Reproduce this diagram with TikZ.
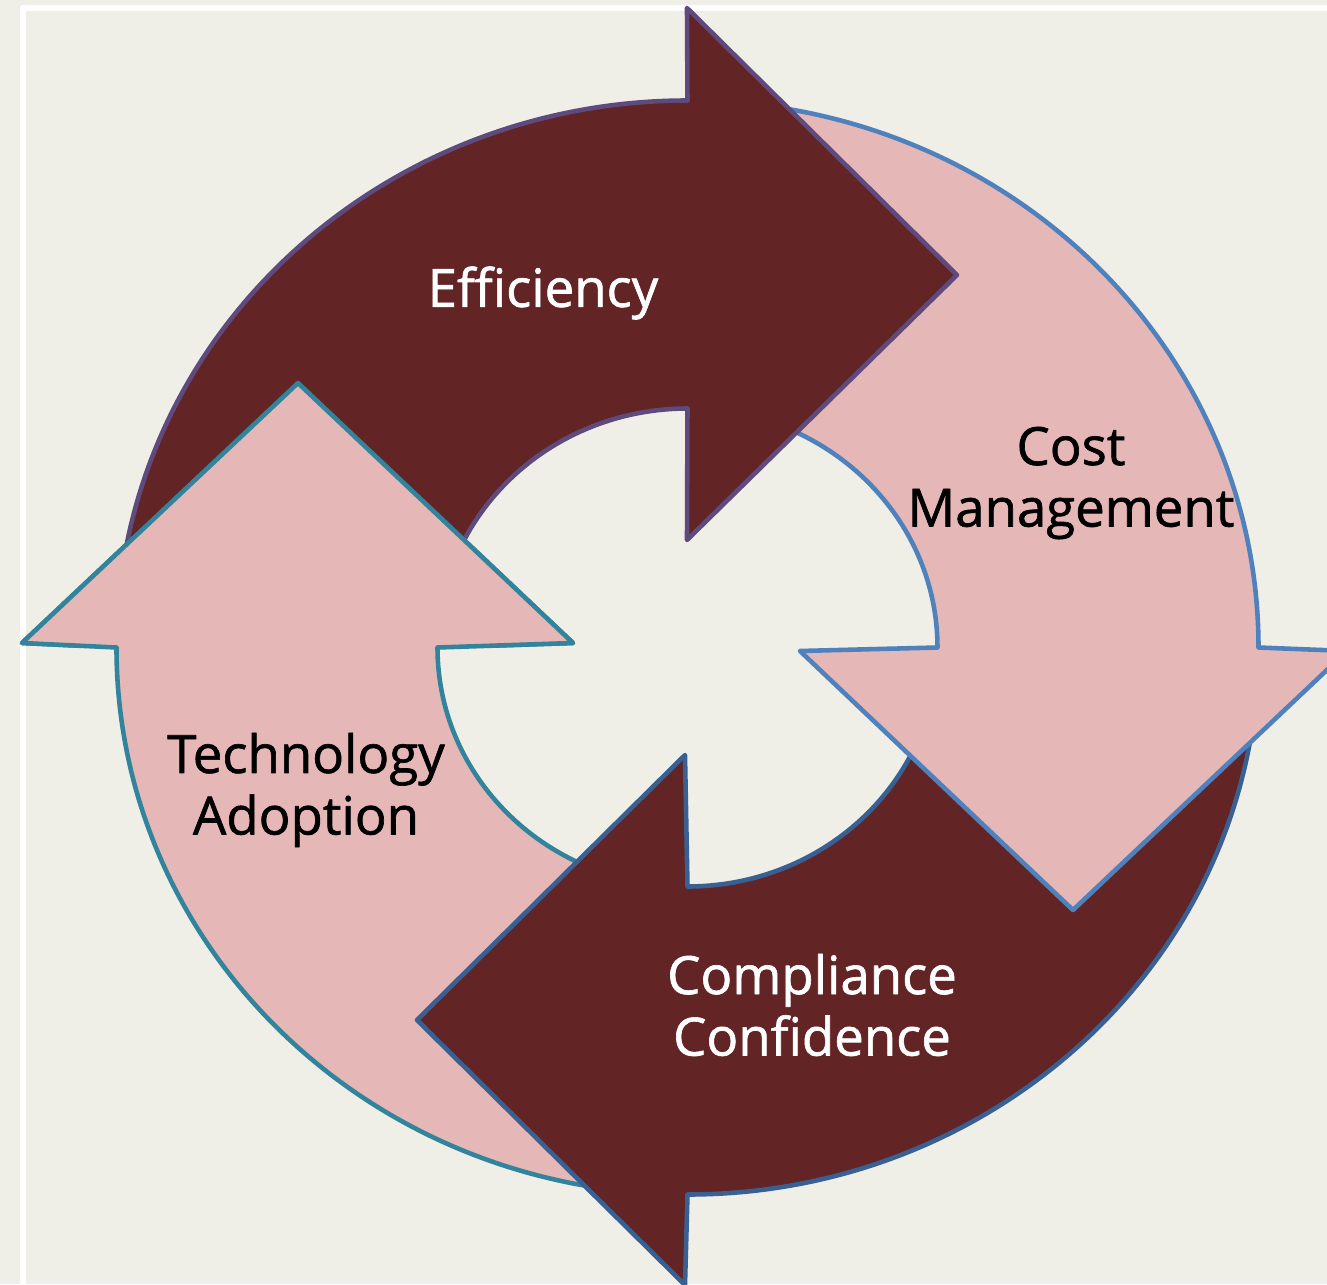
\documentclass[tikz,border=0pt]{standalone}
\usepackage{fontspec}
\newfontfamily\ringfont{Open Sans}[FakeBold=1.2]
\definecolor{paper}{RGB}{239,238,231}
\definecolor{maroon}{RGB}{98,36,37}
\definecolor{blush}{RGB}{229,183,183}
\definecolor{effline}{RGB}{94,74,124}
\definecolor{costline}{RGB}{79,129,189}
\definecolor{compline}{RGB}{56,96,146}
\definecolor{techline}{RGB}{49,132,155}
\begin{document}
\begin{tikzpicture}[x=0.01cm, y=0.01cm, line join=round, line cap=round,
  font=\ringfont\fontsize{15}{17.5}\selectfont,
  darkarrow/.style={fill=maroon, line width=1.3pt},
  pinkarrow/.style={fill=blush, line width=1.3pt},
  ringtext/.style={align=center, inner sep=0pt}]
  \useasboundingbox (-687.5,-636.5) rectangle (639.5,647.5);
  \fill[paper] (-687.5,-636.5) rectangle (639.5,647.5);
  \clip (-687.5,-636.5) rectangle (639.5,647.5);
  \draw[white, line width=1.7pt] (-664.5,639.5) rectangle (800,-800);
  % technology adoption
  \draw[pinkarrow, draw=techline] (-95:571 and 547) arc[start angle=-95, end angle=-180, x radius=571, y radius=547]
    -- (-665.5,4.5) -- (-389.5,264.5) -- (-114.5,4.5) -- (180:250 and 239) arc[start angle=180, end angle=265, x radius=250, y radius=239] -- cycle;
  % compliance confidence
  \draw[darkarrow, draw=compline] (-5:571 and 547) arc[start angle=-5, end angle=-90, x radius=571, y radius=547]
    -- (-2.5,-637.5) -- (-270.5,-372.5) -- (-2.5,-107.5) -- (-90:250 and 239) arc[start angle=-90, end angle=-5, x radius=250, y radius=239] -- cycle;
  % cost management
  \draw[pinkarrow, draw=costline] (85:571 and 547) arc[start angle=85, end angle=0, x radius=571, y radius=547]
    -- (659.5,-3.5) -- (385.5,-262.5) -- (112.5,-3.5) -- (0:250 and 239) arc[start angle=0, end angle=85, x radius=250, y radius=239] -- cycle;
  % efficiency
  \draw[darkarrow, draw=effline] (175:571 and 547) arc[start angle=175, end angle=90, x radius=571, y radius=547]
    -- (-0.5,639.5) -- (269.5,372.5) -- (-0.5,107.5) -- (90:250 and 239) arc[start angle=90, end angle=175, x radius=250, y radius=239] -- cycle;
  % head of technology adoption again, over the tail of efficiency
  \begin{scope}
    \clip (-690,0) rectangle (-100,300);
    \draw[pinkarrow, draw=techline] (-95:571 and 547) arc[start angle=-95, end angle=-180, x radius=571, y radius=547]
      -- (-665.5,4.5) -- (-389.5,264.5) -- (-114.5,4.5) -- (180:250 and 239) arc[start angle=180, end angle=265, x radius=250, y radius=239] -- cycle;
  \end{scope}
  \node[ringtext, white] (eff) at (-144.5,354.5) {Efficiency};
  \node[ringtext] (cost) at (383.5,164.5) {Cost\\Management};
  \node[ringtext, white] (comp) at (124.5,-357.5) {Compliance\\Confidence};
  \node[ringtext] (tech) at (-381.5,-142.5) {Technology\\Adoption};
\end{tikzpicture}
\end{document}
